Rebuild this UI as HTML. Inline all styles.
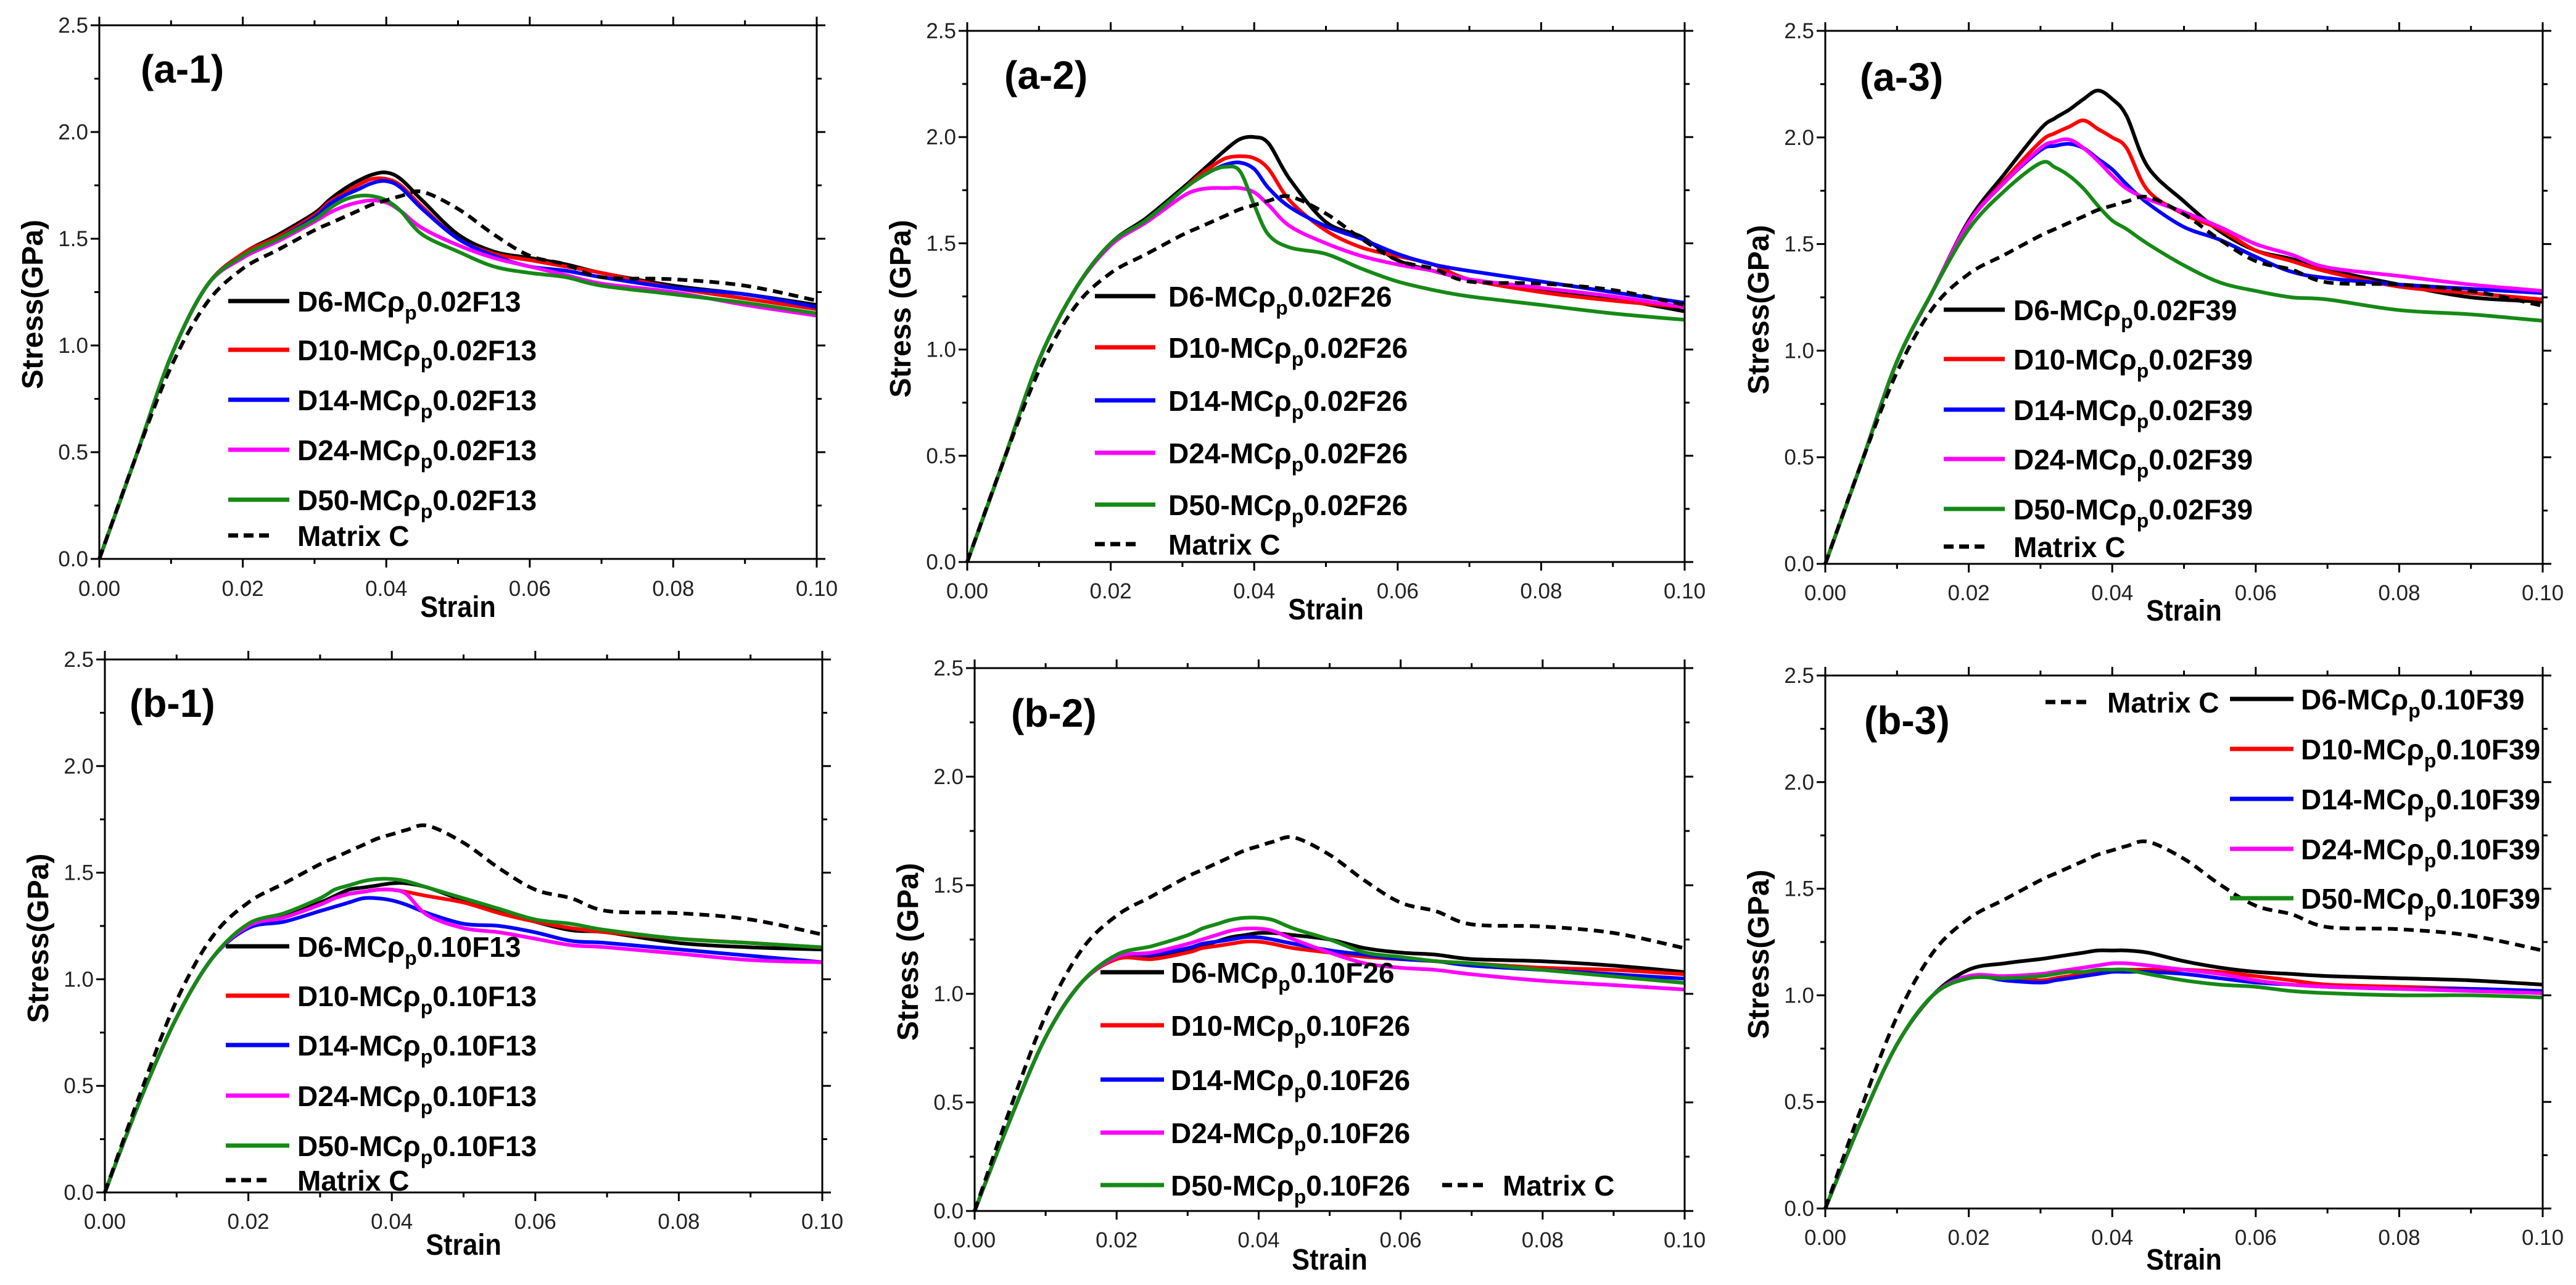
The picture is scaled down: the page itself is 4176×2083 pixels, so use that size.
<!DOCTYPE html>
<html><head><meta charset="utf-8"><style>
html,body{margin:0;padding:0;background:#fff}
svg{display:block}
text{font-family:"Liberation Sans",sans-serif}
</style></head><body>
<svg id="fig" xmlns="http://www.w3.org/2000/svg" width="4176" height="2083" viewBox="0 0 4176 2083"></svg>
<script>
const strain=[0,.005,.01,.015,.02,.025,.03,.032,.034,.036,.038,.04,.042,.045,.05,.055,.06,.065,.07,.08,.09,.1];
const matrixC=[0,.47,.90,1.20,1.36,1.45,1.54,1.57,1.60,1.63,1.66,1.68,1.70,1.72,1.64,1.52,1.42,1.38,1.32,1.31,1.28,1.21];
const elasticA=[0,.47,.95,1.28];
const elasticB1=[0,.44,.82,1.10];
const elasticB2=[0,.42,.80,1.05];
const elasticB3=[0,.41,.77,1.00];
const xTicks=[0,0.02,0.04,0.06,0.08,0.10];
const xTickLabels=["0.00","0.02","0.04","0.06","0.08","0.10"];
const yTicks=[0,0.5,1.0,1.5,2.0,2.5];
const yTickLabels=["0.0","0.5","1.0","1.5","2.0","2.5"];
// panel a-1
const a1_D6=[1.43,1.52,1.62,1.68,1.73,1.77,1.80,1.81,1.78,1.68,1.52,1.44,1.41,1.38,1.34,1.28,1.24,1.19];
const a1_D10=[1.43,1.51,1.61,1.67,1.71,1.75,1.78,1.78,1.75,1.65,1.50,1.43,1.40,1.37,1.34,1.27,1.22,1.17];
const a1_D14=[1.42,1.50,1.60,1.66,1.70,1.73,1.76,1.77,1.74,1.64,1.50,1.42,1.37,1.35,1.32,1.27,1.24,1.18];
const a1_D24=[1.41,1.49,1.58,1.62,1.65,1.67,1.68,1.67,1.63,1.55,1.47,1.41,1.37,1.33,1.29,1.25,1.19,1.14];
const a1_D50=[1.42,1.50,1.59,1.64,1.68,1.70,1.70,1.68,1.63,1.52,1.44,1.37,1.34,1.32,1.28,1.24,1.20,1.15];
// panel a-2
const a2_D6=[1.50,1.62,1.76,1.82,1.88,1.94,1.99,2.00,1.97,1.80,1.60,1.53,1.42,1.37,1.33,1.28,1.24,1.18];
const a2_D10=[1.50,1.61,1.75,1.81,1.86,1.90,1.91,1.90,1.85,1.70,1.56,1.48,1.44,1.40,1.33,1.27,1.23,1.20];
const a2_D14=[1.50,1.61,1.75,1.80,1.84,1.87,1.88,1.85,1.76,1.67,1.58,1.52,1.45,1.40,1.37,1.32,1.27,1.22];
const a2_D24=[1.49,1.60,1.72,1.75,1.76,1.76,1.76,1.74,1.68,1.58,1.50,1.44,1.40,1.37,1.33,1.29,1.25,1.20];
const a2_D50=[1.50,1.61,1.75,1.80,1.84,1.86,1.84,1.68,1.54,1.48,1.45,1.38,1.32,1.28,1.25,1.21,1.17,1.14];
// panel a-3
const a3_D6=[1.61,1.83,2.04,2.09,2.13,2.18,2.22,2.18,2.10,1.86,1.70,1.56,1.47,1.43,1.38,1.31,1.25,1.23];
const a3_D10=[1.60,1.80,1.98,2.02,2.05,2.08,2.04,2.00,1.95,1.75,1.64,1.57,1.47,1.42,1.37,1.30,1.27,1.24];
const a3_D14=[1.60,1.79,1.94,1.96,1.97,1.95,1.90,1.85,1.78,1.69,1.58,1.52,1.44,1.37,1.34,1.31,1.29,1.27];
const a3_D24=[1.60,1.79,1.95,1.98,1.99,1.95,1.89,1.82,1.76,1.71,1.65,1.58,1.50,1.45,1.39,1.35,1.31,1.28];
const a3_D50=[1.57,1.75,1.88,1.86,1.82,1.76,1.68,1.61,1.57,1.50,1.40,1.32,1.28,1.25,1.24,1.19,1.17,1.14];
// panel b-1
const b1_D6=[1.25,1.30,1.36,1.39,1.42,1.43,1.44,1.45,1.45,1.43,1.37,1.32,1.27,1.23,1.22,1.17,1.15,1.14];
const b1_D10=[1.25,1.29,1.35,1.38,1.40,1.41,1.42,1.42,1.41,1.39,1.36,1.31,1.27,1.24,1.22,1.19,1.17,1.15];
const b1_D14=[1.24,1.27,1.32,1.34,1.36,1.38,1.38,1.37,1.35,1.31,1.26,1.25,1.22,1.18,1.17,1.14,1.11,1.08];
const b1_D24=[1.25,1.29,1.35,1.38,1.40,1.41,1.42,1.42,1.40,1.30,1.24,1.22,1.19,1.16,1.15,1.12,1.09,1.08];
const b1_D50=[1.26,1.31,1.38,1.42,1.44,1.46,1.47,1.47,1.46,1.43,1.38,1.33,1.28,1.26,1.23,1.19,1.17,1.15];
// panel b-2
const b2_D6=[1.16,1.17,1.20,1.22,1.24,1.26,1.27,1.28,1.28,1.27,1.25,1.21,1.19,1.18,1.16,1.15,1.13,1.10];
const b2_D10=[1.16,1.16,1.19,1.21,1.22,1.23,1.24,1.24,1.23,1.21,1.19,1.17,1.16,1.15,1.14,1.12,1.11,1.09];
const b2_D14=[1.17,1.18,1.21,1.23,1.24,1.25,1.26,1.26,1.25,1.23,1.20,1.18,1.16,1.15,1.13,1.11,1.09,1.07];
const b2_D24=[1.17,1.19,1.23,1.25,1.27,1.29,1.30,1.30,1.29,1.25,1.19,1.14,1.12,1.11,1.09,1.06,1.04,1.02];
const b2_D50=[1.18,1.22,1.27,1.30,1.32,1.34,1.35,1.35,1.34,1.30,1.25,1.19,1.17,1.15,1.14,1.11,1.08,1.05];
// panel b-3
const b3_D6=[1.12,1.15,1.17,1.18,1.19,1.20,1.21,1.21,1.21,1.20,1.16,1.13,1.11,1.10,1.09,1.08,1.07,1.05];
const b3_D10=[1.09,1.08,1.07,1.08,1.09,1.10,1.11,1.12,1.12,1.12,1.12,1.11,1.09,1.07,1.05,1.04,1.03,1.01];
const b3_D14=[1.09,1.07,1.06,1.07,1.08,1.09,1.10,1.11,1.11,1.11,1.10,1.08,1.06,1.05,1.04,1.03,1.03,1.02];
const b3_D24=[1.09,1.09,1.10,1.11,1.12,1.13,1.14,1.15,1.15,1.14,1.12,1.10,1.07,1.05,1.04,1.03,1.02,1.01];
const b3_D50=[1.08,1.08,1.09,1.10,1.11,1.11,1.12,1.12,1.12,1.10,1.07,1.05,1.04,1.02,1.01,1.00,1.00,0.99];

const NS="http://www.w3.org/2000/svg";
const svg=document.getElementById('fig');
const colors=["#000000","#ff0000","#0000ff","#ff00ff","#158a15"];
const sizes=["D6","D10","D14","D24","D50"];
function mk(tag,attrs,parent){const e=document.createElementNS(NS,tag);for(const k in attrs)e.setAttribute(k,attrs[k]);(parent||svg).appendChild(e);return e;}
function pathD(pts){let d="M"+pts[0][0].toFixed(1)+","+pts[0][1].toFixed(1);
 for(let i=0;i<pts.length-1;i++){const p0=pts[Math.max(0,i-1)],p1=pts[i],p2=pts[i+1],p3=pts[Math.min(pts.length-1,i+2)];
  const c1=[p1[0]+(p2[0]-p0[0])/6,p1[1]+(p2[1]-p0[1])/6],c2=[p2[0]-(p3[0]-p1[0])/6,p2[1]-(p3[1]-p1[1])/6];
  d+="C"+c1[0].toFixed(1)+","+c1[1].toFixed(1)+" "+c2[0].toFixed(1)+","+c2[1].toFixed(1)+" "+p2[0].toFixed(1)+","+p2[1].toFixed(1);}
 return d;}

const panels=[
 {id:"a-1",x0:161,x1:1324,yt:41,yb:906,yl:"Stress(GPa)",lbl:[228,134],series:[a1_D6,a1_D10,a1_D14,a1_D24,a1_D50],el:elasticA,code:"0.02F13",
  leg:{lx:370,lw:99,tx:482,rows:[488,567,648,729,810],mrow:[370,868,482]},xlabY:966,strainY:1000},
 {id:"a-2",x0:1568,x1:2731,yt:50,yb:911,yl:"Stress (GPa)",lbl:[1628,144],series:[a2_D6,a2_D10,a2_D14,a2_D24,a2_D50],el:elasticA,code:"0.02F26",
  leg:{lx:1775,lw:98,tx:1894,rows:[480,563,649,734,818],mrow:[1775,882,1894]},xlabY:970,strainY:1004},
 {id:"a-3",x0:2959,x1:4122,yt:50,yb:914,yl:"Stress(GPa)",lbl:[3015,147],series:[a3_D6,a3_D10,a3_D14,a3_D24,a3_D50],el:elasticA,code:"0.02F39",
  leg:{lx:3151,lw:99,tx:3264,rows:[502,582,664,744,825],mrow:[3151,886,3264]},xlabY:973,strainY:1006},
 {id:"b-1",x0:170,x1:1333,yt:1069,yb:1933,yl:"Stress(GPa)",lbl:[210,1162],series:[b1_D6,b1_D10,b1_D14,b1_D24,b1_D50],el:elasticB1,code:"0.10F13",
  leg:{lx:366,lw:103,tx:482,rows:[1534,1614,1694,1776,1857],mrow:[366,1913,482]},xlabY:1992,strainY:2034},
 {id:"b-2",x0:1580,x1:2731,yt:1083,yb:1963,yl:"Stress (GPa)",lbl:[1639,1178],series:[b2_D6,b2_D10,b2_D14,b2_D24,b2_D50],el:elasticB2,code:"0.10F26",
  leg:{lx:1784,lw:103,tx:1898,rows:[1576,1662,1750,1836,1921],mrow:[2338,1921,2436]},xlabY:2022,strainY:2058},
 {id:"b-3",x0:2959,x1:4122,yt:1095,yb:1959,yl:"Stress(GPa)",lbl:[3022,1190],series:[b3_D6,b3_D10,b3_D14,b3_D24,b3_D50],el:elasticB3,code:"0.10F39",
  leg:{lx:3615,lw:103,tx:3730,rows:[1133,1214,1295,1376,1456],mrow:[3316,1138,3416]},xlabY:2018,strainY:2058}
];

function squeeze(t,f){try{const w=t.getComputedTextLength();t.setAttribute('textLength',(w*f).toFixed(1));t.setAttribute('lengthAdjust','spacingAndGlyphs');}catch(e){}}

panels.forEach(p=>{
 const g=mk('g',{});
 
 
 const X=v=>p.x0+(v/0.10)*(p.x1-p.x0);
 const Y=v=>p.yb-(v/2.5)*(p.yb-p.yt);
 p.series.forEach((s,i)=>{
  const vals=p.el.concat(s);
  const pts=strain.map((x,j)=>[X(x),Y(vals[j])]);
  const path=mk('path',{d:pathD(pts),fill:"none",stroke:colors[i],"stroke-width":6,"stroke-linejoin":"round"},g);
  
  
 });
 const mpts=strain.map((x,j)=>[X(x),Y(matrixC[j])]);
 const mp=mk('path',{d:pathD(mpts),fill:"none",stroke:"#000","stroke-width":6,"stroke-dasharray":"16,10"},g);
 
 
 const fr=mk('rect',{x:p.x0,y:p.yt,width:p.x1-p.x0,height:p.yb-p.yt,fill:"none",stroke:"#000","stroke-width":3},g);
 
 
 for(let k=0;k<=10;k++){const v=k*0.01,x=X(v),L=(k%2==0)?14:8;
  mk('line',{x1:x,y1:p.yb,x2:x,y2:p.yb+L,stroke:"#000","stroke-width":3},g);
  mk('line',{x1:x,y1:p.yt,x2:x,y2:p.yt-L,stroke:"#000","stroke-width":3},g);}
 for(let k=0;k<=10;k++){const v=k*0.25,y=Y(v),L=(k%2==0)?14:8;
  mk('line',{x1:p.x0,y1:y,x2:p.x0-L,y2:y,stroke:"#000","stroke-width":3},g);
  mk('line',{x1:p.x1,y1:y,x2:p.x1+L,y2:y,stroke:"#000","stroke-width":3},g);}
 xTicks.forEach((v,i)=>{const t=mk('text',{x:X(v),y:p.xlabY,"font-size":35,"text-anchor":"middle",fill:"#222"},g);t.textContent=xTickLabels[i];
  
  });
 yTicks.forEach((v,i)=>{const t=mk('text',{x:p.x0-18,y:Y(v)+12,"font-size":35,"text-anchor":"end",fill:"#222"},g);t.textContent=yTickLabels[i];
  
  });
 const xt=mk('text',{x:(p.x0+p.x1)/2,y:p.strainY,"font-size":48,"font-weight":"bold","text-anchor":"middle"},g);xt.textContent="Strain";
 
 
 squeeze(xt,0.9);
 const cy=(p.yt+p.yb)/2+20, cx=p.x0-92;
 const yt=mk('text',{x:cx,y:cy,"font-size":48,"font-weight":"bold","text-anchor":"middle",transform:`rotate(-90 ${cx} ${cy})`},g);yt.textContent=p.yl;
 
 
 const pl=mk('text',{x:p.lbl[0],y:p.lbl[1],"font-size":64,"font-weight":"bold"},g);pl.textContent="("+p.id+")";
 
 
 p.leg.rows.forEach((ry,i)=>{
  const ln=mk('line',{x1:p.leg.lx,y1:ry,x2:p.leg.lx+p.leg.lw,y2:ry,stroke:colors[i],"stroke-width":7},g);
  
  
  const t=mk('text',{x:p.leg.tx,y:ry+17,"font-size":46,"font-weight":"bold"},g);
  
  
  const a=mk('tspan',{},t);a.textContent=sizes[i]+"-MCρ";
  const b=mk('tspan',{"font-size":32,dy:13},t);b.textContent="p";
  const c=mk('tspan',{dy:-13},t);c.textContent=p.code;
 });
 const m=p.leg.mrow;
 const ml=mk('line',{x1:m[0],y1:m[1],x2:m[0]+72,y2:m[1],stroke:"#000","stroke-width":7,"stroke-dasharray":"16,9"},g);
 
 
 const mt=mk('text',{x:m[2],y:m[1]+17,"font-size":46,"font-weight":"bold"},g);mt.textContent="Matrix C";
 
 
});
</script>
</body></html>
